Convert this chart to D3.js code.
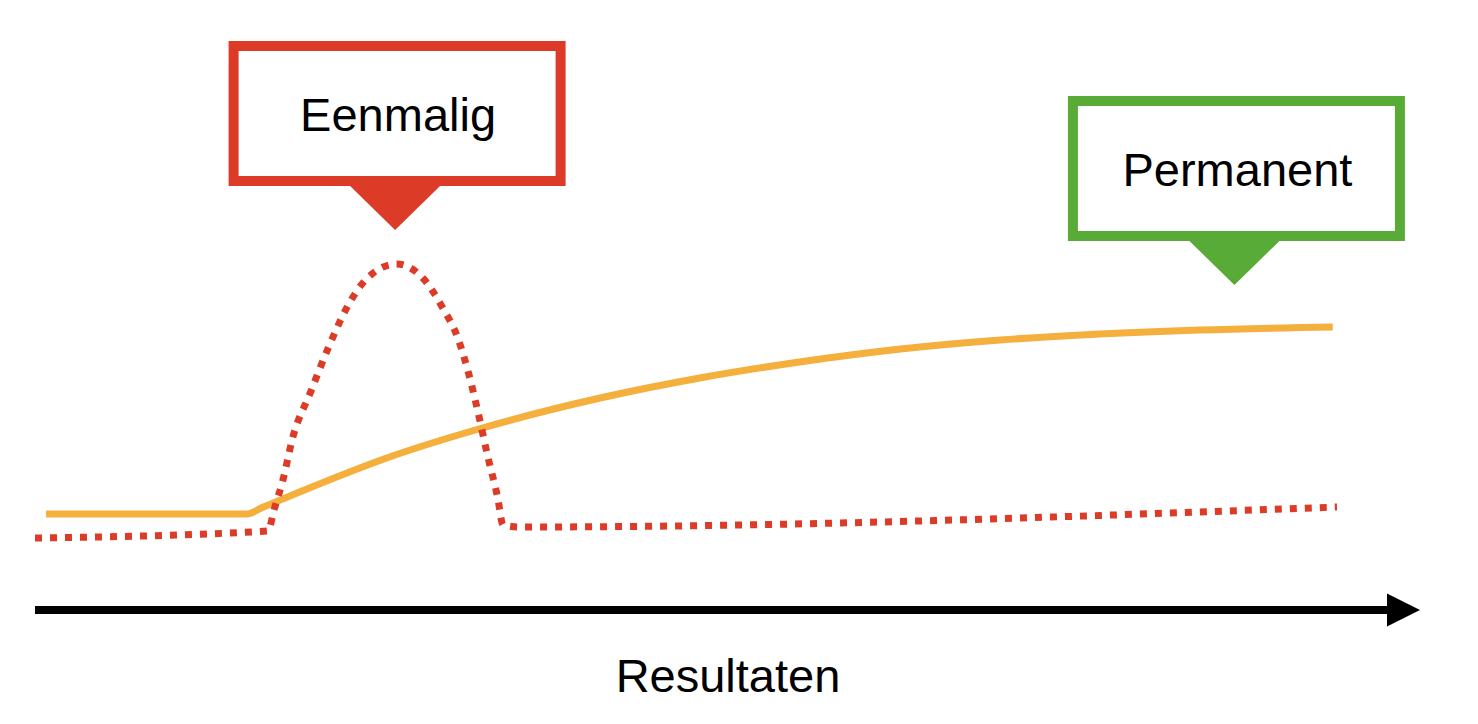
<!DOCTYPE html>
<html>
<head>
<meta charset="utf-8">
<script src="https://cdn.jsdelivr.net/npm/d3@7"></script>
<style>
  html, body { margin: 0; padding: 0; background: #fff; }
  svg { display: block; }
  text { font-family: "Liberation Sans", Arial, Helvetica, sans-serif; fill: #000; }
</style>
</head>
<body>
<svg id="chart" width="1478" height="724"></svg>
<script>
// ---- data (abstract units: x = time 0..100, y = level 0..100) ----
const permanentX = [0.8, 15.3, 16.4, 19.1, 25.6, 32.3, 40.8, 48.0, 55.2, 62.5, 69.7, 76.9, 84.1, 93.7];
const permanentY = [24, 24, 25.6, 29.5, 38.25, 45.5, 53, 58, 62, 65.25, 67.5, 69, 70, 70.75];

const eenmaligX = [0, 16.8, 17.3, 17.9, 18.6, 19.9, 21.2, 22.7, 24.0, 26.1, 28.0, 29.4, 30.5, 31.3, 32.0, 32.7, 33.4, 33.8, 35.0, 94.0];
const eenmaligY = [18, 19.75, 25.5, 32.5, 43, 54.5, 65.75, 76.75, 83, 86.5, 83, 75.75, 68.25, 59.25, 49.25, 38.25, 28.25, 21.25, 20.75, 25.75];

const calloutLabels = ["Eenmalig", "Permanent"];
const calloutX = [26.0, 86.6];
const calloutY = [95, 81.25];
const axisLabel = "Resultaten";

// ---- layout ----
const svg = d3.select("#chart");
const x = d3.scaleLinear().domain([0, 100]).range([35, 1420]);
const y = d3.scaleLinear().domain([0, 100]).range([610, 210]);

const RED = "#DC3B27", GREEN = "#57AB36", ORANGE = "#F4AF3D";
const calloutColors = [RED, GREEN];

// axis arrow
svg.append("line")
  .attr("x1", x(0)).attr("x2", x(100) - 30)
  .attr("y1", y(0)).attr("y2", y(0))
  .attr("stroke", "#000").attr("stroke-width", 8);
svg.append("path")
  .attr("d", `M${x(100) - 33},${y(0) - 16.5} L${x(100)},${y(0)} L${x(100) - 33},${y(0) + 16.5} Z`)
  .attr("fill", "#000");

svg.append("text")
  .attr("x", 728).attr("y", 692)
  .attr("text-anchor", "middle")
  .attr("font-size", 47)
  .text(axisLabel);

// lines
const line = d3.line().x(d => x(d[0])).y(d => y(d[1])).curve(d3.curveMonotoneX);

svg.append("path")
  .datum(d3.zip(permanentX, permanentY))
  .attr("d", line)
  .attr("fill", "none")
  .attr("stroke", ORANGE)
  .attr("stroke-width", 7);

svg.append("path")
  .datum(d3.zip(eenmaligX, eenmaligY))
  .attr("d", line)
  .attr("fill", "none")
  .attr("stroke", RED)
  .attr("stroke-width", 7)
  .attr("stroke-dasharray", "7 8");

// callouts
const boxW = 327, boxH = 135, triH = 44, triHalf = 46, sw = 10;
calloutLabels.forEach((lab, i) => {
  const tx = x(calloutX[i]), ty = y(calloutY[i]);
  const g = svg.append("g");
  const boxBottomOuter = ty - triH;
  const boxBottom = boxBottomOuter - sw / 2;
  const boxTop = boxBottom - boxH;
  g.append("path")
    .attr("d", `M${tx - triHalf},${boxBottomOuter - 1} L${tx},${ty} L${tx + triHalf},${boxBottomOuter - 1} Z`)
    .attr("fill", calloutColors[i]);
  g.append("rect")
    .attr("x", tx - boxW / 2 + 2).attr("y", boxTop)
    .attr("width", boxW).attr("height", boxH)
    .attr("fill", "#fff")
    .attr("stroke", calloutColors[i])
    .attr("stroke-width", sw);
  g.append("text")
    .attr("x", tx + 3).attr("y", boxTop + boxH / 2 + 17)
    .attr("text-anchor", "middle")
    .attr("font-size", 47)
    .text(lab);
});
</script>
</body>
</html>
